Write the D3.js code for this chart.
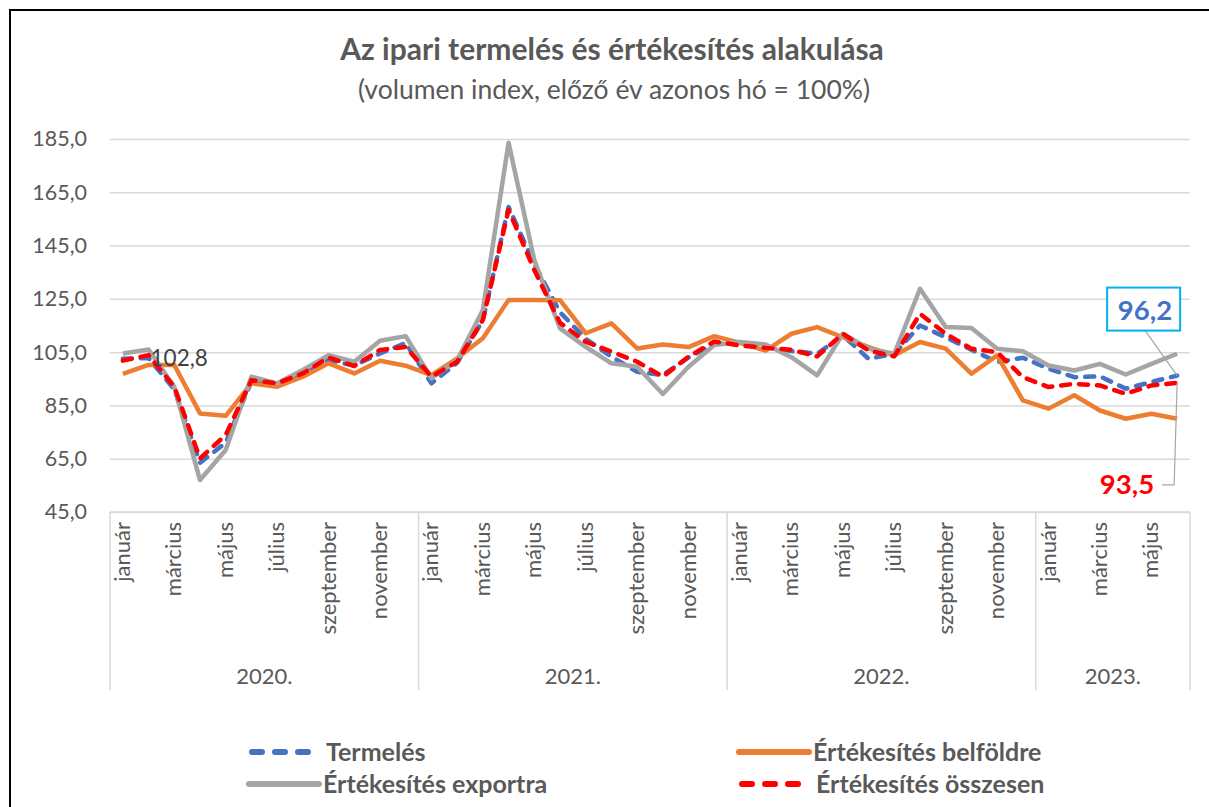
<!DOCTYPE html>
<html>
<head>
<meta charset="utf-8">
<script src="https://cdn.jsdelivr.net/npm/d3@7"></script>
<style>
  body { margin: 0; background: #fff; }
  svg { display: block; font-family: Lato, 'Open Sans', sans-serif; }
</style>
</head>
<body>
<div class="viz"></div>
<script>
'use strict'

const width = 1209,
  height = 807;
const margin = {top: 139, right: 19, bottom: 295, left: 110};

// Data (volumen index, előző év azonos hó = 100%)
const years = ['2020.', '2021.', '2022.', '2023.'];
const months = ['január', 'február', 'március', 'április', 'május', 'június',
  'július', 'augusztus', 'szeptember', 'október', 'november', 'december'];
const months_per_year = [12, 12, 12, 6];

const termeles = [
  102.5, 102.8, 91.0, 63.5, 71.0, 94.0, 93.0, 97.5, 102.0, 100.0, 104.5, 108.4,
  93.3, 101.0, 117.0, 159.5, 138.0, 120.0, 110.0, 103.3, 97.6, 96.4, 103.0, 108.0,
  108.8, 106.9, 105.4, 104.4, 111.3, 102.5, 104.4, 115.0, 110.6, 105.9, 101.3, 102.9,
  98.8, 95.6, 95.9, 91.3, 93.8, 96.2];
const belfoldre = [
  96.8, 100.2, 100.2, 82.0, 81.1, 93.3, 92.0, 95.8, 100.8, 97.0, 101.8, 99.9,
  96.4, 102.7, 110.2, 124.6, 124.6, 124.5, 112.1, 115.8, 106.4, 107.9, 106.9, 111.0,
  108.5, 105.6, 111.9, 114.4, 110.6, 106.9, 103.8, 108.8, 106.3, 96.9, 103.8, 86.9,
  83.8, 88.8, 83.1, 80.0, 81.9, 80.0];
const exportra = [
  104.5, 106.0, 92.0, 57.0, 68.3, 95.8, 93.3, 98.3, 103.9, 101.4, 109.3, 111.0,
  95.2, 102.0, 120.8, 183.6, 139.6, 113.9, 107.0, 100.8, 99.5, 89.3, 99.5, 107.7,
  108.8, 107.9, 103.1, 96.3, 111.9, 106.3, 104.4, 128.8, 114.4, 114.1, 106.3, 105.3,
  100.0, 98.1, 100.6, 96.6, 100.6, 104.4];
const osszesen = [
  101.8, 103.9, 92.0, 65.1, 73.9, 94.5, 93.3, 97.0, 103.0, 99.8, 105.8, 107.0,
  95.8, 101.4, 117.1, 158.4, 135.8, 116.0, 108.9, 105.2, 101.4, 95.8, 103.3, 109.0,
  107.5, 106.6, 105.9, 103.4, 111.9, 105.6, 103.4, 119.4, 111.9, 106.3, 105.0, 95.6,
  91.9, 93.1, 92.5, 89.4, 92.5, 93.5];

const y_ticks = [45, 65, 85, 105, 125, 145, 165, 185];

// category list: one entry per month
let cats = [];
years.forEach((yr, k) => {
  for (let m = 0; m < months_per_year[k]; m++) cats.push({year: yr, month: months[m], m: m});
});

const series = [
  {name: 'Termelés', values: termeles, color: '#4472C4', dash: '9,9'},
  {name: 'Értékesítés belföldre', values: belfoldre, color: '#ED7D31', dash: null},
  {name: 'Értékesítés exportra', values: exportra, color: '#A5A5A5', dash: null},
  {name: 'Értékesítés összesen', values: osszesen, color: '#FF0000', dash: '9,9'}
];

const text_color = '#595959';
const fmt = v => d3.format('.1f')(v).replace('.', ',');

let svg = d3.select('.viz')
  .append('svg')
  .attr('width', width)
  .attr('height', height);

// outer frame
svg.append('rect')
  .attr('x', 10)
  .attr('y', 10)
  .attr('width', width + 20)
  .attr('height', height + 20)
  .attr('fill', 'none')
  .attr('stroke', '#000')
  .attr('stroke-width', 2);

// title
svg.append('text')
  .attr('x', 612)
  .attr('y', 60)
  .attr('text-anchor', 'middle')
  .attr('font-size', 30)
  .attr('font-weight', 'bold')
  .attr('fill', text_color)
  .text('Az ipari termelés és értékesítés alakulása');
svg.append('text')
  .attr('x', 614)
  .attr('y', 99)
  .attr('text-anchor', 'middle')
  .attr('font-size', 26.5)
  .attr('fill', text_color)
  .text('(volumen index, előző év azonos hó = 100%)');

let x = d3.scaleBand()
  .domain(d3.range(cats.length))
  .range([margin.left, width - margin.right]);
let cx = i => x(i) + x.bandwidth() / 2;

let y = d3.scaleLinear()
  .domain([45, 185])
  .range([height - margin.bottom, margin.top]);

// gridlines + y labels
let y_axis = svg.append('g')
  .attr('transform', `translate(${margin.left},0)`)
  .call(d3.axisLeft(y)
    .tickValues(y_ticks)
    .tickSize(-(width - margin.left - margin.right))
    .tickPadding(23)
    .tickFormat(fmt));
y_axis.select('.domain').remove();
y_axis.selectAll('.tick line')
  .attr('stroke', '#D9D9D9')
  .attr('stroke-width', 1.5);
y_axis.selectAll('.tick text')
  .attr('fill', text_color)
  .attr('font-size', 21.5)
  .attr('font-family', 'Lato, sans-serif');

// category axis
let cat_g = svg.append('g');
let y0 = y(45);
let bottom = 690;
let bounds = [0];
months_per_year.forEach((n, k) => bounds.push(bounds[k] + n));
cat_g.selectAll('line.sep')
  .data(bounds)
  .join('line')
  .attr('class', 'sep')
  .attr('x1', d => d < cats.length ? x(d) : x.range()[1])
  .attr('x2', d => d < cats.length ? x(d) : x.range()[1])
  .attr('y1', y0)
  .attr('y2', bottom)
  .attr('stroke', '#D9D9D9')
  .attr('stroke-width', 1.5);
cat_g.append('line')
  .attr('x1', x.range()[0])
  .attr('x2', x.range()[1])
  .attr('y1', y0)
  .attr('y2', y0)
  .attr('stroke', '#D9D9D9')
  .attr('stroke-width', 1.5);

cat_g.selectAll('text.month')
  .data(cats.map((d, i) => Object.assign({i: i}, d)).filter(d => d.m % 2 === 0))
  .join('text')
  .attr('class', 'month')
  .attr('transform', d => `translate(${cx(d.i) + 7},${y0 + 10}) rotate(-90)`)
  .attr('text-anchor', 'end')
  .attr('font-size', 22)
  .attr('fill', text_color)
  .text(d => d.month);

cat_g.selectAll('text.year')
  .data(years)
  .join('text')
  .attr('class', 'year')
  .attr('x', (d, k) => {
    let x1 = x(bounds[k]);
    let x2 = bounds[k + 1] < cats.length ? x(bounds[k + 1]) : x.range()[1];
    return (x1 + x2) / 2;
  })
  .attr('y', 684)
  .attr('text-anchor', 'middle')
  .attr('font-size', 22)
  .attr('fill', text_color)
  .text(d => d);

// lines
let line = d3.line()
  .x((d, i) => cx(i))
  .y(d => y(d));
let draw_order = [0, 1, 2, 3];
svg.append('g')
  .attr('fill', 'none')
  .selectAll('path')
  .data(draw_order.map(k => series[k]))
  .join('path')
  .attr('d', d => line(d.values))
  .attr('stroke', d => d.color)
  .attr('stroke-width', 4.5)
  .attr('stroke-linejoin', 'round')
  .attr('stroke-linecap', d => d.dash ? 'round' : 'butt')
  .attr('stroke-dasharray', d => d.dash);

// data labels
let ann = svg.append('g');
ann.append('text')
  .attr('x', cx(1) + 2)
  .attr('y', y(termeles[1]) + 8)
  .attr('font-size', 22.5)
  .attr('fill', '#404040')
  .text(fmt(termeles[1]));

let last = cats.length - 1;
let px = cx(last),
  py_t = y(termeles[last]),
  py_o = y(osszesen[last]);
// 96,2 box
ann.append('line')
  .attr('x1', px - 32).attr('y1', py_t - 45)
  .attr('x2', px).attr('y2', py_t)
  .attr('stroke', '#A5A5A5').attr('stroke-width', 1.2);
ann.append('rect')
  .attr('x', px - 70).attr('y', py_t - 88)
  .attr('width', 73).attr('height', 43)
  .attr('fill', '#fff')
  .attr('stroke', '#00B0F0')
  .attr('stroke-width', 2);
ann.append('text')
  .attr('x', px - 5).attr('y', py_t - 56)
  .attr('text-anchor', 'end')
  .attr('font-size', 27.5)
  .attr('font-weight', 'bold')
  .attr('fill', '#4472C4')
  .text(fmt(termeles[last]));
// 93,5 label
ann.append('polyline')
  .attr('points', `${px},${py_o} ${px - 3},${py_o + 102} ${px - 15},${py_o + 102}`)
  .attr('fill', 'none')
  .attr('stroke', '#A5A5A5').attr('stroke-width', 1.2);
ann.append('text')
  .attr('x', px - 23).attr('y', py_o + 111)
  .attr('text-anchor', 'end')
  .attr('font-size', 27.5)
  .attr('font-weight', 'bold')
  .attr('fill', '#FF0000')
  .text(fmt(osszesen[last]));

// legend
const legend_pos = [[249, 752], [739, 752], [249, 784], [739, 784]];
let legend = svg.append('g')
  .selectAll('g')
  .data(series)
  .join('g')
  .attr('transform', (d, i) => `translate(${legend_pos[i][0]},${legend_pos[i][1]})`);
legend.append('line')
  .attr('x1', d => d.dash ? 3 : 0)
  .attr('x2', d => d.dash ? 60 : 70)
  .attr('stroke', d => d.color)
  .attr('stroke-width', 6)
  .attr('stroke-linecap', 'round')
  .attr('stroke-dasharray', d => d.dash ? '10,13' : null);
legend.append('text')
  .attr('x', d => d.dash ? 77 : 74)
  .attr('y', 9)
  .attr('font-size', 25)
  .attr('font-weight', 'bold')
  .attr('fill', text_color)
  .text(d => d.name);
</script>
</body>
</html>
